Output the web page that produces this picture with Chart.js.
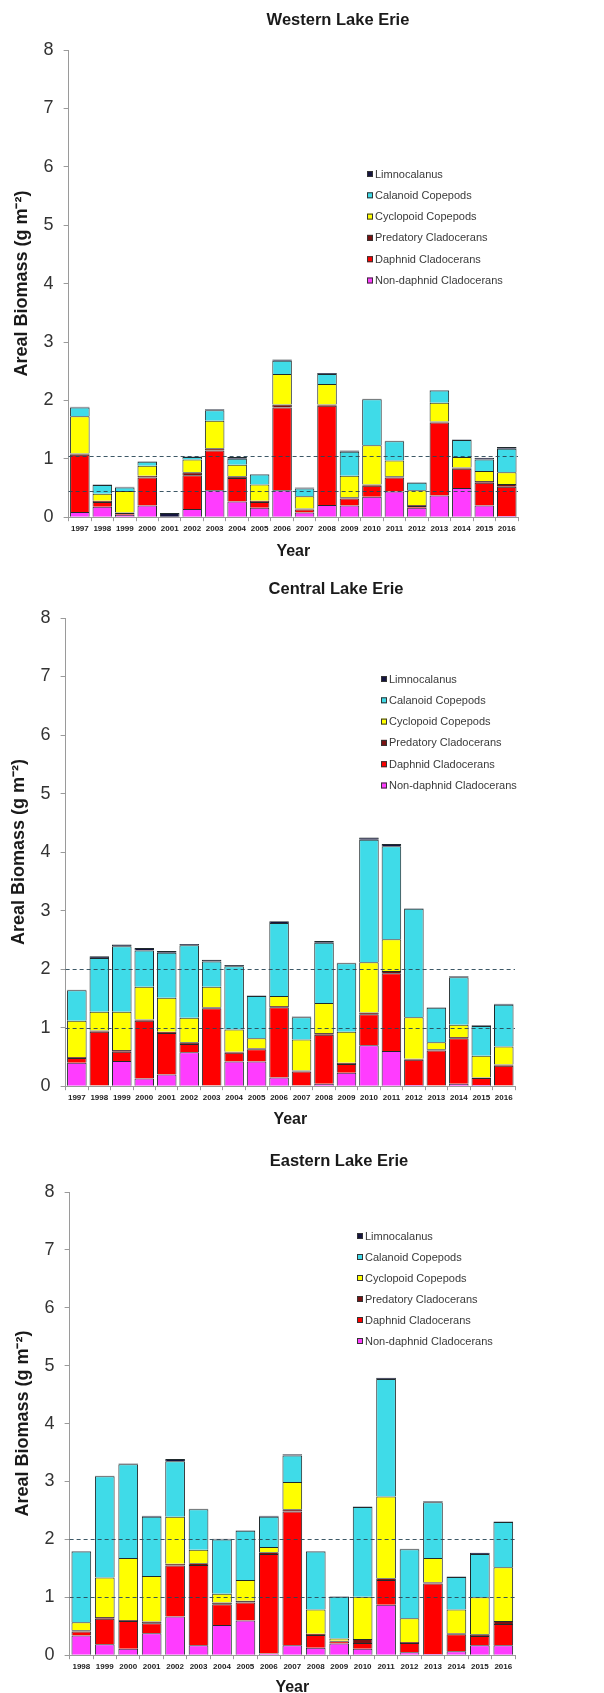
<!DOCTYPE html>
<html>
<head>
<meta charset="utf-8">
<title>Lake Erie zooplankton areal biomass</title>
<script src="https://cdn.jsdelivr.net/npm/chart.js@4.4.1/dist/chart.umd.min.js"></script>
<style>
  html, body { margin: 0; padding: 0; background: #ffffff; }
  .panel { width: 604px; position: relative; }
  canvas { display: block; }
</style>
</head>
<body>
<div class="panel"><canvas id="west" width="604" height="566"></canvas></div>
<div class="panel"><canvas id="central" width="604" height="567"></canvas></div>
<div class="panel"><canvas id="east" width="604" height="564"></canvas></div>
<script>
// ---- Data (g m^-2), stacked bottom to top ----
const seriesNames = [
  'Non-daphnid Cladocerans',
  'Daphnid Cladocerans',
  'Predatory Cladocerans',
  'Cyclopoid Copepods',
  'Calanoid Copepods',
  'Limnocalanus'
];

const westYears = ['1997','1998','1999','2000','2001','2002','2003','2004','2005','2006',
                   '2007','2008','2009','2010','2011','2012','2013','2014','2015','2016'];
const westNonDaphnid = [0.09,0.18,0.04,0.20,0.00,0.14,0.46,0.27,0.16,0.46,0.08,0.21,0.20,0.35,0.44,0.16,0.37,0.50,0.20,0.02];
const westDaphnid    = [0.98,0.08,0.03,0.48,0.00,0.58,0.68,0.40,0.10,1.42,0.05,1.70,0.12,0.19,0.24,0.03,1.25,0.33,0.39,0.50];
const westPredatory  = [0.02,0.02,0.01,0.03,0.00,0.05,0.04,0.03,0.02,0.05,0.02,0.02,0.02,0.02,0.02,0.02,0.02,0.02,0.03,0.05];
const westCyclopoid  = [0.64,0.12,0.37,0.17,0.00,0.22,0.47,0.20,0.28,0.52,0.21,0.35,0.37,0.67,0.27,0.25,0.32,0.18,0.17,0.20];
const westCalanoid   = [0.15,0.15,0.06,0.07,0.00,0.04,0.18,0.10,0.17,0.23,0.13,0.17,0.41,0.79,0.33,0.13,0.21,0.29,0.20,0.40];
const westLimno      = [0.01,0.01,0.01,0.01,0.07,0.01,0.02,0.03,0.01,0.02,0.02,0.02,0.02,0.01,0.01,0.01,0.01,0.01,0.03,0.03];
const westRefLines   = [1.04, 0.45];

const centYears = ['1997','1998','1999','2000','2001','2002','2003','2004','2005','2006',
                   '2007','2008','2009','2010','2011','2012','2013','2014','2015','2016'];
const centNonDaphnid = [0.40,0.01,0.43,0.13,0.20,0.58,0.01,0.42,0.42,0.15,0.01,0.04,0.23,0.70,0.60,0.02,0.01,0.04,0.02,0.01];
const centDaphnid    = [0.08,0.92,0.16,0.99,0.71,0.14,1.32,0.15,0.21,1.20,0.24,0.84,0.15,0.53,1.33,0.43,0.60,0.78,0.12,0.34];
const centPredatory  = [0.02,0.02,0.03,0.02,0.02,0.03,0.02,0.02,0.02,0.02,0.02,0.03,0.02,0.03,0.04,0.02,0.02,0.02,0.01,0.02];
const centCyclopoid  = [0.62,0.32,0.65,0.56,0.58,0.42,0.35,0.38,0.17,0.17,0.53,0.51,0.53,0.86,0.54,0.71,0.12,0.21,0.37,0.31];
const centCalanoid   = [0.52,0.92,1.12,0.62,0.77,1.24,0.43,1.08,0.72,1.25,0.38,1.03,1.17,2.09,1.59,1.85,0.59,0.81,0.51,0.71];
const centLimno      = [0.01,0.03,0.03,0.04,0.03,0.02,0.03,0.02,0.01,0.03,0.01,0.03,0.01,0.04,0.04,0.01,0.01,0.02,0.01,0.02];
const centRefLines   = [2, 1];

const eastYears = ['1998','1999','2000','2001','2002','2003','2004','2005','2006','2007',
                   '2008','2009','2010','2011','2012','2013','2014','2015','2016'];
const eastNonDaphnid = [0.34,0.19,0.11,0.38,0.67,0.17,0.52,0.60,0.03,0.17,0.13,0.20,0.11,0.87,0.05,0.02,0.07,0.17,0.17];
const eastDaphnid    = [0.07,0.44,0.48,0.17,0.88,1.39,0.36,0.31,1.72,2.31,0.22,0.04,0.10,0.43,0.16,1.22,0.29,0.16,0.37];
const eastPredatory  = [0.02,0.03,0.02,0.03,0.03,0.03,0.03,0.03,0.03,0.04,0.02,0.01,0.07,0.03,0.02,0.02,0.02,0.03,0.05];
const eastCyclopoid  = [0.14,0.68,1.07,0.79,0.81,0.23,0.15,0.36,0.09,0.47,0.42,0.04,0.73,1.41,0.41,0.42,0.41,0.64,0.93];
const eastCalanoid   = [1.22,1.75,1.62,1.02,0.96,0.70,0.94,0.85,0.52,0.46,1.00,0.72,1.55,2.03,1.19,0.96,0.56,0.75,0.78];
const eastLimno      = [0.01,0.01,0.01,0.02,0.04,0.01,0.01,0.01,0.02,0.02,0.01,0.01,0.01,0.02,0.01,0.02,0.01,0.02,0.01];
const eastRefLines   = [2, 1];

const yTickValues = [0, 1, 2, 3, 4, 5, 6, 7, 8];

// ---- Styling ----
const FONT = "'Liberation Sans', Arial, Helvetica, sans-serif";
Chart.defaults.font.family = FONT;
const seriesColors = ['#ff3cff', '#ff0000', '#7a1212', '#ffff00', '#3fdbe8', '#15153f'];
const outline = '#1f2a2c';

// Draws the dashed reference lines, the panel heading and the species key.
const panelDecor = {
  id: 'panelDecor',
  afterDatasetsDraw(chart, args, opts) {
    const ctx = chart.ctx;
    const yScale = chart.scales.y;
    const { left, right } = chart.chartArea;
    ctx.save();
    ctx.setLineDash([4, 3]);
    ctx.strokeStyle = 'rgba(40,70,85,0.9)';
    ctx.lineWidth = 1.2;
    (opts.refLines || []).forEach(v => {
      const py = Math.round(yScale.getPixelForValue(v)) + 0.5;
      ctx.beginPath();
      ctx.moveTo(left, py);
      ctx.lineTo(right, py);
      ctx.stroke();
    });
    ctx.restore();
  },
  afterDraw(chart, args, opts) {
    const ctx = chart.ctx;
    ctx.save();
    // heading
    ctx.font = 'bold 16.5px ' + FONT;
    ctx.fillStyle = '#1a1a1a';
    ctx.textAlign = 'center';
    ctx.textBaseline = 'middle';
    ctx.fillText(opts.heading, opts.headingX, opts.headingY);
    // key, listed top-down from the top of the stack
    ctx.font = '11px ' + FONT;
    ctx.textAlign = 'left';
    const sets = chart.data.datasets.slice().reverse();
    sets.forEach((ds, i) => {
      const y = opts.keyY + i * opts.keyGap;
      ctx.fillStyle = ds.backgroundColor;
      ctx.fillRect(opts.keyX, y - 3, 6, 6);
      ctx.strokeStyle = '#333';
      ctx.lineWidth = 1;
      ctx.strokeRect(opts.keyX + 0.5, y - 2.5, 5, 5);
      ctx.fillStyle = '#3a3a3a';
      ctx.fillText(ds.label, opts.keyX + 8, y + 0.5);
    });
    ctx.restore();
  }
};

function makeDatasets(cols, barPct) {
  return cols.map((vals, i) => ({
    label: seriesNames[i],
    data: vals,
    backgroundColor: seriesColors[i],
    borderColor: outline,
    borderWidth: 1,
    barPercentage: barPct,
    categoryPercentage: 1.0
  }));
}

function makeChart(id, years, cols, refLines, layout, decor) {
  return new Chart(document.getElementById(id), {
    type: 'bar',
    data: { labels: years, datasets: makeDatasets(cols, layout.barPct) },
    options: {
      responsive: false,
      animation: false,
      layout: { padding: layout.padding },
      plugins: {
        legend: { display: false },
        tooltip: { enabled: false },
        panelDecor: Object.assign({ refLines: refLines }, decor)
      },
      scales: {
        x: {
          stacked: true,
          grid: { display: true, drawOnChartArea: false, tickLength: 4, color: '#9a9a9a' },
          border: { color: '#9a9a9a' },
          ticks: { font: { size: 8, weight: 'bold' }, color: '#222', maxRotation: 0, autoSkip: false, padding: 3 },
          title: { display: true, text: 'Year', font: { size: 16, weight: 'bold' }, color: '#1a1a1a',
                   padding: { top: layout.yearPad, bottom: 0 } }
        },
        y: {
          stacked: true,
          min: 0,
          max: 8,
          afterBuildTicks: axis => { axis.ticks = yTickValues.map(v => ({ value: v })); },
          grid: { display: true, drawOnChartArea: false, tickLength: 5, color: '#9a9a9a' },
          border: { color: '#9a9a9a' },
          ticks: { font: { size: 18 }, color: '#333', padding: 10 },
          title: { display: true, text: 'Areal Biomass (g m\u207B\u00B2)', font: { size: 18, weight: 'bold' },
                   color: '#1a1a1a', padding: { top: 1, bottom: 1 } }
        }
      }
    },
    plugins: [panelDecor]
  });
}

makeChart('west', westYears,
  [westNonDaphnid, westDaphnid, westPredatory, westCyclopoid, westCalanoid, westLimno],
  westRefLines,
  { padding: { top: 50, bottom: 5, left: 10, right: 86 }, yearPad: 5, barPct: 0.87 },
  { heading: 'Western Lake Erie', headingX: 338, headingY: 20, keyX: 367, keyY: 174, keyGap: 21.3 });

makeChart('central', centYears,
  [centNonDaphnid, centDaphnid, centPredatory, centCyclopoid, centCalanoid, centLimno],
  centRefLines,
  { padding: { top: 52, bottom: 4, left: 7, right: 89 }, yearPad: 4, barPct: 0.87 },
  { heading: 'Central Lake Erie', headingX: 336, headingY: 23, keyX: 381, keyY: 113, keyGap: 21.3 });

makeChart('east', eastYears,
  [eastNonDaphnid, eastDaphnid, eastPredatory, eastCyclopoid, eastCalanoid, eastLimno],
  eastRefLines,
  { padding: { top: 59, bottom: 0, left: 11, right: 89 }, yearPad: 3, barPct: 0.84 },
  { heading: 'Eastern Lake Erie', headingX: 339, headingY: 28, keyX: 357, keyY: 103, keyGap: 21 });
</script>
</body>
</html>
